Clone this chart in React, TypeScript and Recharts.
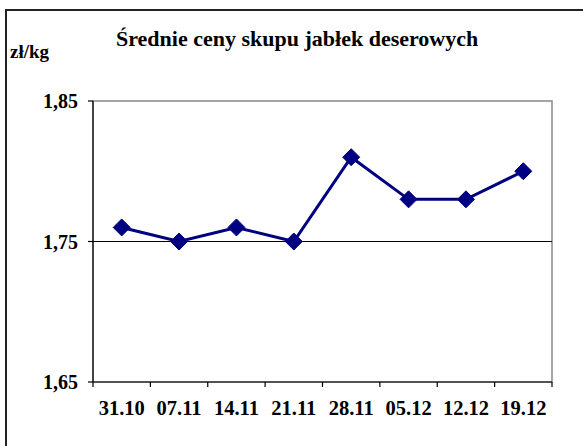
import React from "react";
import { LineChart, Line, XAxis, YAxis, ReferenceLine, ReferenceArea } from "recharts";

const categories = ["31.10", "07.11", "14.11", "21.11", "28.11", "05.12", "12.12", "19.12"];
const prices = [1.76, 1.75, 1.76, 1.75, 1.81, 1.78, 1.78, 1.8];
const yTicks = [1.65, 1.75, 1.85];

const data = categories.map((c, i) => ({ date: c, price: prices[i] }));

const FONT = "Liberation Serif";
const NAVY = "#000080";

const Diamond = (props: any) => {
  const { cx, cy } = props;
  if (cx == null || cy == null) return null;
  const r = 8.5;
  return (
    <polygon
      points={`${cx},${cy - r} ${cx + r},${cy} ${cx},${cy + r} ${cx - r},${cy}`}
      fill={NAVY}
      stroke={NAVY}
    />
  );
};

const CategoryTick = (props: any) => {
  const { x, y, payload, index, visibleTicksCount, width } = props;
  const count = visibleTicksCount || categories.length;
  const bw = width / count;
  const left = x - bw / 2;
  const right = x + bw / 2;
  return (
    <g>
      <line x1={left} y1={y} x2={left} y2={y + 5} stroke="#000" strokeWidth={1.2} />
      {index === count - 1 && <line x1={right} y1={y} x2={right} y2={y + 5} stroke="#000" strokeWidth={1.2} />}
      <text
        x={x}
        y={y + 33.3}
        textAnchor="middle"
        fontFamily={FONT}
        fontWeight="bold"
        fontSize={20.5}
        fill="#000"
      >
        {payload.value}
      </text>
    </g>
  );
};

export default function App() {
  return (
    <div style={{ position: "absolute", left: 0, top: 0, width: 583, height: 446, background: "#fff", overflow: "hidden" }}>
      <div style={{ position: "absolute", left: 5, top: 9, width: 600, height: 500, borderTop: "2px solid #222", borderLeft: "2px solid #222" }} />
      <div
        style={{
          position: "absolute",
          left: 116,
          top: 26,
          fontFamily: FONT,
          fontWeight: "bold",
          fontSize: 22,
          lineHeight: "25px",
          color: "#000",
          whiteSpace: "nowrap",
        }}
      >
        Średnie ceny skupu jabłek deserowych
      </div>
      <div
        style={{
          position: "absolute",
          left: 10,
          top: 41,
          fontFamily: FONT,
          fontWeight: "bold",
          fontSize: 19,
          lineHeight: "22px",
          color: "#000",
        }}
      >
        zł/kg
      </div>
      <div style={{ position: "absolute", left: 0, top: 0 }}>
        <LineChart width={583} height={446} data={data} margin={{ top: 101, right: 31, bottom: 0, left: 0 }}>
          <ReferenceArea y1={1.65} y2={1.85} stroke="#888" strokeWidth={1.5} fill="none" ifOverflow="visible" />
          <ReferenceLine y={1.75} stroke="#000" strokeWidth={1.2} />
          <XAxis
            dataKey="date"
            scale="band"
            height={64}
            axisLine={{ stroke: "#000", strokeWidth: 1.2 }}
            tickLine={false}
            tickSize={0}
            tickMargin={0}
            tick={<CategoryTick />}
            interval={0}
          />
          <YAxis
            width={93}
            domain={[1.65, 1.85]}
            ticks={yTicks}
            allowDataOverflow
            axisLine={{ stroke: "#000", strokeWidth: 1.2 }}
            tickLine={{ stroke: "#000", strokeWidth: 1.2 }}
            tickSize={5}
            tickMargin={10}
            tickFormatter={(v: number) => v.toFixed(2).replace(".", ",")}
            tick={{ fontFamily: FONT, fontWeight: "bold", fontSize: 20, fill: "#000" }}
          />
          <Line
            type="linear"
            dataKey="price"
            stroke={NAVY}
            strokeWidth={3}
            dot={<Diamond />}
            activeDot={false}
            isAnimationActive={false}
          />
        </LineChart>
      </div>
    </div>
  );
}
